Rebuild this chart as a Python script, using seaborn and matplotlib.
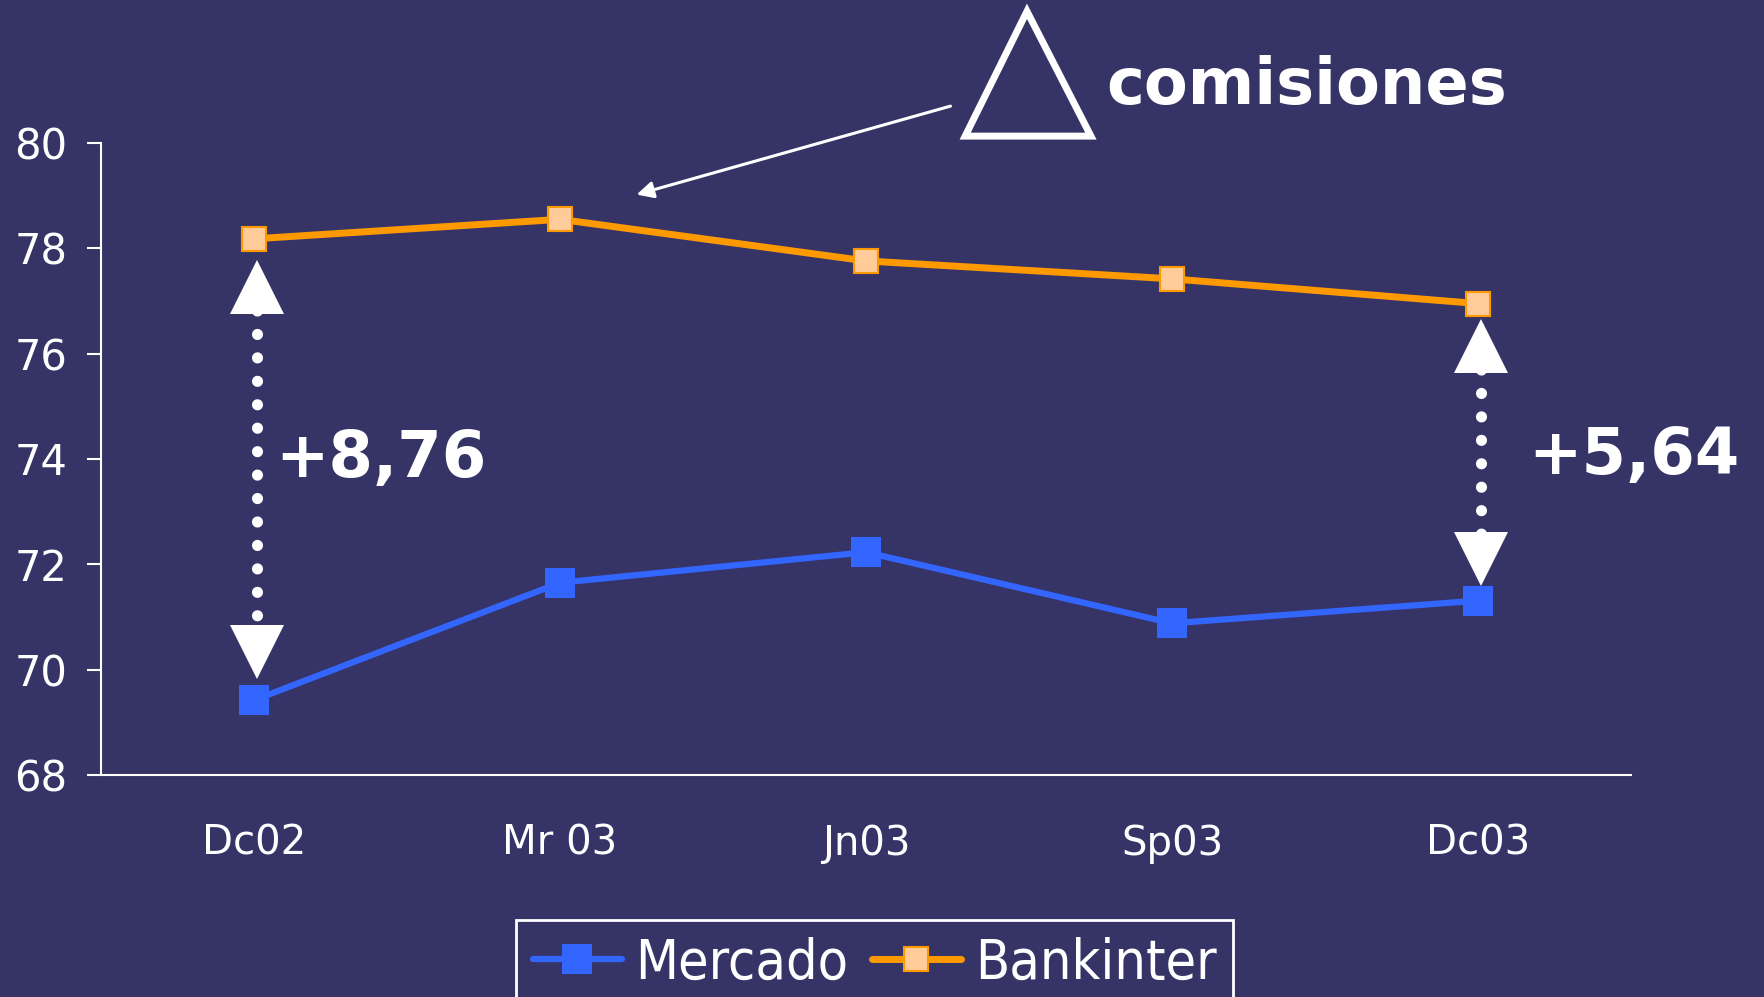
import numpy as np
import pandas as pd
import matplotlib
matplotlib.use('Agg')
import matplotlib.pyplot as plt
import seaborn as sns
from matplotlib.patches import Polygon
from matplotlib.font_manager import FontProperties

# chart data
periodos = ['Dc02', 'Mr 03', 'Jn03', 'Sp03', 'Dc03']
mercado = [69.42, 71.65, 72.23, 70.88, 71.31]
bankinter = [78.18, 78.55, 77.76, 77.42, 76.95]
diferencias = ['+8,76', '+5,64']
y_ticks = [68, 70, 72, 74, 76, 78, 80]

bg = '#363467'
azul = '#3366FF'
naranja = '#FF9900'
naranja_claro = '#FFCC99'

df = pd.DataFrame({'periodo': periodos, 'Mercado': mercado, 'Bankinter': bankinter})

sns.set_theme(style='white')
plt.rcParams['font.family'] = ['DejaVu Sans']

fig = plt.figure(figsize=(17.64, 9.97), dpi=100)
fig.patch.set_facecolor(bg)
ax = fig.add_axes([0.0573, 0.2227, 0.8673, 0.6339])
ax.set_facecolor(bg)

sns.lineplot(data=df, x='periodo', y='Mercado', sort=False, ax=ax, color=azul,
             lw=4.5, marker='s', markersize=22, markerfacecolor=azul,
             markeredgecolor=azul, markeredgewidth=0, label='Mercado', zorder=3)
sns.lineplot(data=df, x='periodo', y='Bankinter', sort=False, ax=ax, color=naranja,
             lw=5, marker='s', markersize=17, markerfacecolor=naranja_claro,
             markeredgecolor=naranja, markeredgewidth=1.5, label='Bankinter', zorder=3)

ax.set_xlim(-0.5, len(periodos) - 0.5)
ax.set_ylim(y_ticks[0], y_ticks[-1])
ax.set_yticks(y_ticks)
ax.set_xlabel('')
ax.set_ylabel('')

sns.despine(ax=ax)
for s in ['left', 'bottom']:
    ax.spines[s].set_color('white')
    ax.spines[s].set_linewidth(1.5)
ax.tick_params(axis='y', left=True, length=10, width=1.5, color='white',
               pad=14, labelsize=30, labelcolor='white')
ax.tick_params(axis='x', bottom=False, length=0, pad=35, labelsize=29,
               labelcolor='white')

# double arrows with the gap between both series
extremos = [0, len(periodos) - 1]
gaps = [0.92, 0.8]
label_pos = [(0.07, 74.0), (4.165, 74.06)]
for i, (k, txt) in enumerate(zip(extremos, diferencias)):
    top = bankinter[k] - gaps[i]
    bot = mercado[k] + gaps[i]
    xk = k + 0.01
    ax.plot([xk, xk], [top, bot], color='white', lw=8,
            linestyle=(0, (0.01, 2.1)), dash_capstyle='round', zorder=4)
    ax.plot([xk], [top], marker='^', markersize=39, color='white',
            markeredgewidth=0, zorder=5, clip_on=False)
    ax.plot([xk], [bot], marker='v', markersize=39, color='white',
            markeredgewidth=0, zorder=5, clip_on=False)
    ax.text(label_pos[i][0], label_pos[i][1], txt, fontsize=46,
            fontweight='bold', color='white', va='center', ha='left', clip_on=False)

# "delta comisiones" note
ax.annotate('', xy=(1.25, 79.02), xytext=(2.276, 80.70),
            arrowprops=dict(arrowstyle='-|>,head_length=0.5,head_width=0.25',
                            color='white', lw=2.2, shrinkA=0, shrinkB=0,
                            mutation_scale=20),
            annotation_clip=False)
tri = Polygon([[2.526, 82.50], [2.324, 80.13], [2.735, 80.13]], closed=True,
              fill=False, edgecolor='white', lw=5, joinstyle='miter', clip_on=False)
ax.add_patch(tri)
ax.text(2.785, 81.08, 'comisiones', fontsize=46, fontweight='bold', color='white',
        va='center', ha='left', clip_on=False)

leg = ax.legend(loc='upper left', bbox_to_anchor=(0.2925, 0.0772),
                bbox_transform=fig.transFigure, ncol=2, frameon=True, fancybox=False,
                facecolor=bg, edgecolor='white', framealpha=1,
                prop=FontProperties(family='DejaVu Sans', stretch='condensed', size=40),
                labelcolor='white', handlelength=1.6, handletextpad=0.25,
                columnspacing=0.42, borderpad=0.3, borderaxespad=0)
leg.get_frame().set_linewidth(2)

fig.savefig('out.png', dpi=100, facecolor=bg)
